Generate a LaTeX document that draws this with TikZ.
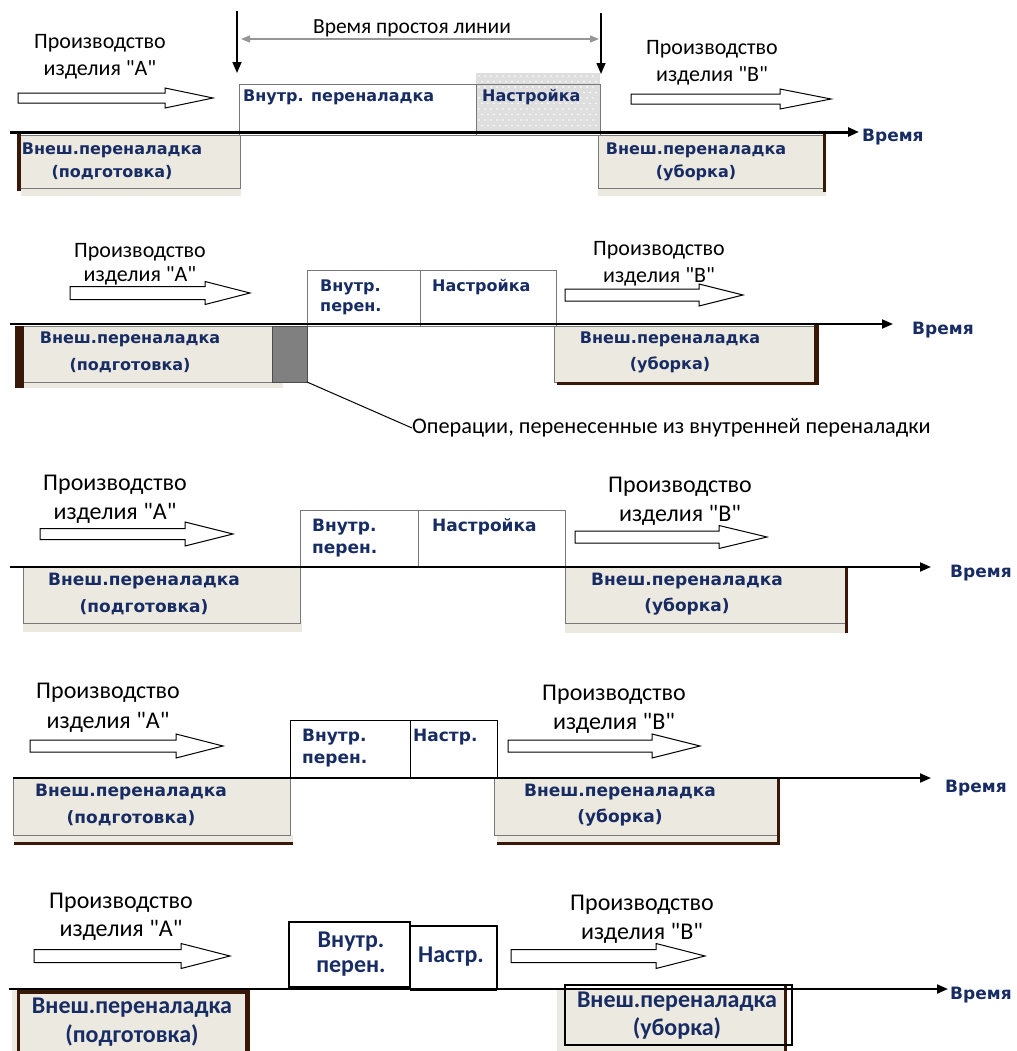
\documentclass[tikz,border=0pt]{standalone}
\usepackage{fontspec}
\setmainfont{Carlito}
\newfontfamily\carl{Carlito}
\newfontfamily\dvfont{DejaVu Sans}
\usetikzlibrary{arrows.meta,fit}
\definecolor{navy}{RGB}{24,44,100}
\definecolor{beige}{RGB}{236,233,224}
\definecolor{brownd}{RGB}{58,24,8}
\definecolor{boxgray}{RGB}{120,120,120}
\definecolor{blockgray}{RGB}{128,128,128}
\definecolor{dotgray}{RGB}{222,222,222}
\definecolor{spangray}{RGB}{150,150,150}
\newcommand\fs[2]{\fontsize{#1bp}{#2bp}\selectfont}
\newcommand\blockarr[6]{\draw[barrow] (#1,#4-#5) -- (#3,#4-#5) -- (#3,#4-#6) -- (#2,#4) -- (#3,#4+#6) -- (#3,#4+#5) -- (#1,#4+#5) -- cycle;}
\tikzset{
  lbla/.style={font=\carl\fs{22}{27}, inner sep=0pt},
  lblb/.style={font=\carl\fs{24}{28}, inner sep=0pt},
  blab/.style={font=\dvfont\bfseries\fs{16}{20}, text=navy, inner sep=0pt},
  blabb/.style={font=\dvfont\bfseries\fs{17}{20}, text=navy, inner sep=0pt},
  clab/.style={font=\carl\bfseries\fs{24}{27}, text=navy, inner sep=0pt},
  tlab/.style={font=\dvfont\bfseries\fs{17}{20}, text=navy, inner sep=0pt, anchor=west},
  extbox/.style={draw=boxgray, fill=beige, line width=1bp, inner sep=0pt, outer sep=0pt},
  intbox/.style={draw=boxgray, line width=1bp, inner sep=0pt, outer sep=0pt},
  axisline/.style={line width=2bp, -{Triangle[length=11bp,width=9bp]}},
  downarr/.style={line width=1.5bp, -{Triangle[length=11bp,width=9bp]}},
  barrow/.style={draw=black, line width=1bp, fill=white},
}
\begin{document}
\begin{tikzpicture}[x=1bp,y=-1bp]
\useasboundingbox (0,0) rectangle (1017,1051);

% ================= Panel 1 =================
\coordinate (v1t) at (237,11); \coordinate (v1b) at (237,73);
\coordinate (v2t) at (601,13); \coordinate (v2b) at (601,74);
\coordinate (g1) at (241,39); \coordinate (g2) at (599,39);
\draw[downarr] (v1t) -- (v1b);
\draw[downarr] (v2t) -- (v2b);
\draw[spangray, line width=1.5bp, {Triangle[length=9bp,width=7bp]}-{Triangle[length=9bp,width=7bp]}] (g1) -- (g2);
\node[font=\carl\fs{21.5}{24}, inner sep=0pt] (idle) at (412,28) {Время простоя линии};

\fill[dotgray] (476,73) rectangle (600,131);
\foreach \i in {0,...,19} \foreach \j in {0,...,9} {
  \fill[white] ({479+\i*6+mod(\j,2)*3},{76+\j*5.5}) circle (0.8bp);
}
\node[intbox, fit={(239,84) (476,135)}] (i1a) {};
\node[intbox, fit={(476,84) (600,135)}] (i1b) {};
\node[blab, anchor=west] (t1a) at (243,97) {Внутр. переналадка};
\node[blab, anchor=west] (t1b) at (482,97) {Настройка};

\fill[beige] (21,186) rectangle (241,196);
\node[extbox, fit={(19,135) (240,188)}] (e1l) {};
\fill[brownd] (17,134) rectangle (21,191);
\node[blab] (e1la) at (112,150) {Внеш.переналадка};
\node[blab] (e1lb) at (112,173) {(подготовка)};

\fill[beige] (598,186) rectangle (826,196);
\node[extbox, fit={(598,135) (823,188)}] (e1r) {};
\fill[brownd] (823,132) rectangle (826,192);
\node[blab] (e1ra) at (696,150) {Внеш.переналадка};
\node[blab] (e1rb) at (696,173) {(уборка)};

\coordinate (a1s) at (10,132); \coordinate (a1e) at (859,132);
\draw[axisline, line width=3bp] (a1s) -- (a1e);
\node[tlab] (time1) at (862,137) {Время};

\blockarr{18}{213}{165}{98}{5}{10}
\blockarr{631}{831}{780}{99}{5}{10}
\node[lbla] (p1a1) at (100,43) {Производство};
\node[lbla] (p1a2) at (100,70) {изделия "А"};
\node[lbla] (p1b1) at (712,49) {Производство};
\node[lbla] (p1b2) at (712,76) {изделия "В"};

% ================= Panel 2 =================
\blockarr{70}{250}{205}{293}{6.5}{11.5}
\blockarr{565}{743}{699}{295}{6}{11}
\node[lbla] (p2a1) at (140,252) {Производство};
\node[lbla] (p2a2) at (140,276) {изделия "А"};
\node[lbla] (p2b1) at (659,250) {Производство};
\node[lbla] (p2b2) at (659,277) {изделия "В"};

\node[intbox, fit={(307,270) (420,326)}] (i2a) {};
\node[intbox, fit={(420,270) (556,326)}] (i2b) {};
\node[blab, anchor=west] (t2a1) at (320,287) {Внутр.};
\node[blab, anchor=west] (t2a2) at (320,309) {перен.};
\node[blab, anchor=west] (t2b) at (432,287) {Настройка};

\fill[beige] (24,380) rectangle (283,388);
\node[extbox, fit={(15,326) (272,382)}] (e2l) {};
\fill[brownd] (15,326) rectangle (24,388);
\node[fit={(272,326) (307,382)}, fill=blockgray, draw=black!70, line width=1bp, inner sep=0pt, outer sep=0pt] (blk2) {};
\node[blab] (e2la) at (130,339) {Внеш.переналадка};
\node[blab] (e2lb) at (130,366) {(подготовка)};

\node[extbox, fit={(554,326) (814,382)}] (e2r) {};
\fill[brownd] (814,324) rectangle (819,385);
\fill[brownd] (557,382) rectangle (819,385);
\node[blab] (e2ra) at (670,339) {Внеш.переналадка};
\node[blab] (e2rb) at (670,365) {(уборка)};

\coordinate (a2s) at (10,324); \coordinate (a2e) at (893,324);
\draw[axisline] (a2s) -- (a2e);
\node[tlab] (time2) at (912,330) {Время};

\node[font=\carl\fs{22.3}{25}, inner sep=0pt, anchor=west] (ops) at (412,428) {Операции, перенесенные из внутренней переналадки};
\draw[line width=1bp] (blk2.south east) -- (ops.west);

% ================= Panel 3 =================
\blockarr{40}{233}{185}{534}{5.5}{12}
\blockarr{575}{767}{719}{537}{6}{11.5}
\node[lblb] (p3a1) at (115,485) {Производство};
\node[lblb] (p3a2) at (115,513) {изделия "А"};
\node[lblb] (p3b1) at (680,487) {Производство};
\node[lblb] (p3b2) at (680,515) {изделия "В"};

\node[intbox, fit={(300,510) (418,567)}] (i3a) {};
\node[intbox, fit={(418,510) (565,567)}] (i3b) {};
\node[blabb, anchor=west] (t3a1) at (312,527) {Внутр.};
\node[blabb, anchor=west] (t3a2) at (312,550) {перен.};
\node[blabb, anchor=west] (t3b) at (432,527) {Настройка};

\fill[beige] (23,621) rectangle (302,632);
\node[extbox, fit={(23,567) (300,623)}] (e3l) {};
\node[blabb] (e3la) at (144,581) {Внеш.переналадка};
\node[blabb] (e3lb) at (144,607) {(подготовка)};

\fill[beige] (565,621) rectangle (848,633);
\node[extbox, fit={(565,567) (845,623)}] (e3r) {};
\fill[brownd] (845,567) rectangle (848,633);
\node[blabb] (e3ra) at (687,581) {Внеш.переналадка};
\node[blabb] (e3rb) at (687,607) {(уборка)};

\coordinate (a3s) at (10,567); \coordinate (a3e) at (931,567);
\draw[axisline] (a3s) -- (a3e);
\node[tlab] (time3) at (950,573) {Время};

% ================= Panel 4 =================
\blockarr{30}{223}{176}{746}{6}{12}
\blockarr{508}{700}{652}{746}{6}{12}
\node[lblb] (p4a1) at (108,693) {Производство};
\node[lblb] (p4a2) at (108,722) {изделия "А"};
\node[lblb] (p4b1) at (614,695) {Производство};
\node[lblb] (p4b2) at (614,723) {изделия "В"};

\node[intbox, draw=black, fit={(290,720) (410,778)}] (i4a) {};
\node[intbox, draw=black, fit={(410,720) (497,778)}] (i4b) {};
\node[blabb, anchor=west] (t4a1) at (302,737) {Внутр.};
\node[blabb, anchor=west] (t4a2) at (302,760) {перен.};
\node[blabb, anchor=west] (t4b) at (413,737) {Настр.};

\fill[beige] (14,835) rectangle (293,842);
\fill[brownd] (14,842) rectangle (293,845);
\node[extbox, fit={(13,778) (290,835)}] (e4l) {};
\node[blabb] (e4la) at (131,792) {Внеш.переналадка};
\node[blabb] (e4lb) at (131,818) {(подготовка)};

\fill[beige] (497,835) rectangle (780,842);
\fill[brownd] (497,842) rectangle (780,845);
\node[extbox, fit={(494,778) (777,835)}] (e4r) {};
\fill[brownd] (777,778) rectangle (780,845);
\node[blabb] (e4ra) at (620,792) {Внеш.переналадка};
\node[blabb] (e4rb) at (620,818) {(уборка)};

\coordinate (a4s) at (13,778); \coordinate (a4e) at (931,778);
\draw[axisline] (a4s) -- (a4e);
\node[tlab] (time4) at (945,788) {Время};

% ================= Panel 5 =================
\blockarr{34}{230}{181}{956}{6.5}{12.5}
\blockarr{511}{705}{656}{956}{6.5}{12.5}
\node[lblb] (p5a1) at (121,903) {Производство};
\node[lblb] (p5a2) at (121,930) {изделия "А"};
\node[lblb] (p5b1) at (642,905) {Производство};
\node[lblb] (p5b2) at (642,933) {изделия "В"};

\node[intbox, draw=black, line width=1.5bp, fit={(289,922) (410,987)}] (i5a) {};
\node[intbox, draw=black, line width=1.5bp, fit={(410,926) (497,989)}] (i5b) {};
\draw[line width=3bp] (i5b.south west) -- (i5b.south east);
\node[clab] (t5a1) at (351,942) {Внутр.};
\node[clab] (t5a2) at (351,968) {перен.};
\node[clab] (t5b) at (451,957) {Настр.};

\fill[beige] (12,990) rectangle (250,1051);
\node[fill=beige, inner sep=0pt, outer sep=0pt, fit={(17,990) (250,1051)}] (e5l) {};
\fill[brownd] (17,990) rectangle (250,994);
\fill[brownd] (17,990) rectangle (20,1051);
\fill[brownd] (245,990) rectangle (250,1051);
\node[clab] (e5la) at (132,1008) {Внеш.переналадка};
\node[clab] (e5lb) at (132,1036) {(подготовка)};

\fill[beige] (557,990) rectangle (786,1051);
\fill[brownd] (784,985) rectangle (787,1051);
\node[draw=black, line width=1.2bp, inner sep=0pt, outer sep=0pt, fit={(565,985) (792,1045)}] (e5r) {};
\node[clab] (e5ra) at (677,1002) {Внеш.переналадка};
\node[clab] (e5rb) at (677,1028) {(уборка)};

\coordinate (a5s) at (9,989); \coordinate (a5e) at (948,989);
\draw[axisline] (a5s) -- (a5e);
\node[tlab] (time5) at (950,995) {Время};
\end{tikzpicture}
\end{document}
